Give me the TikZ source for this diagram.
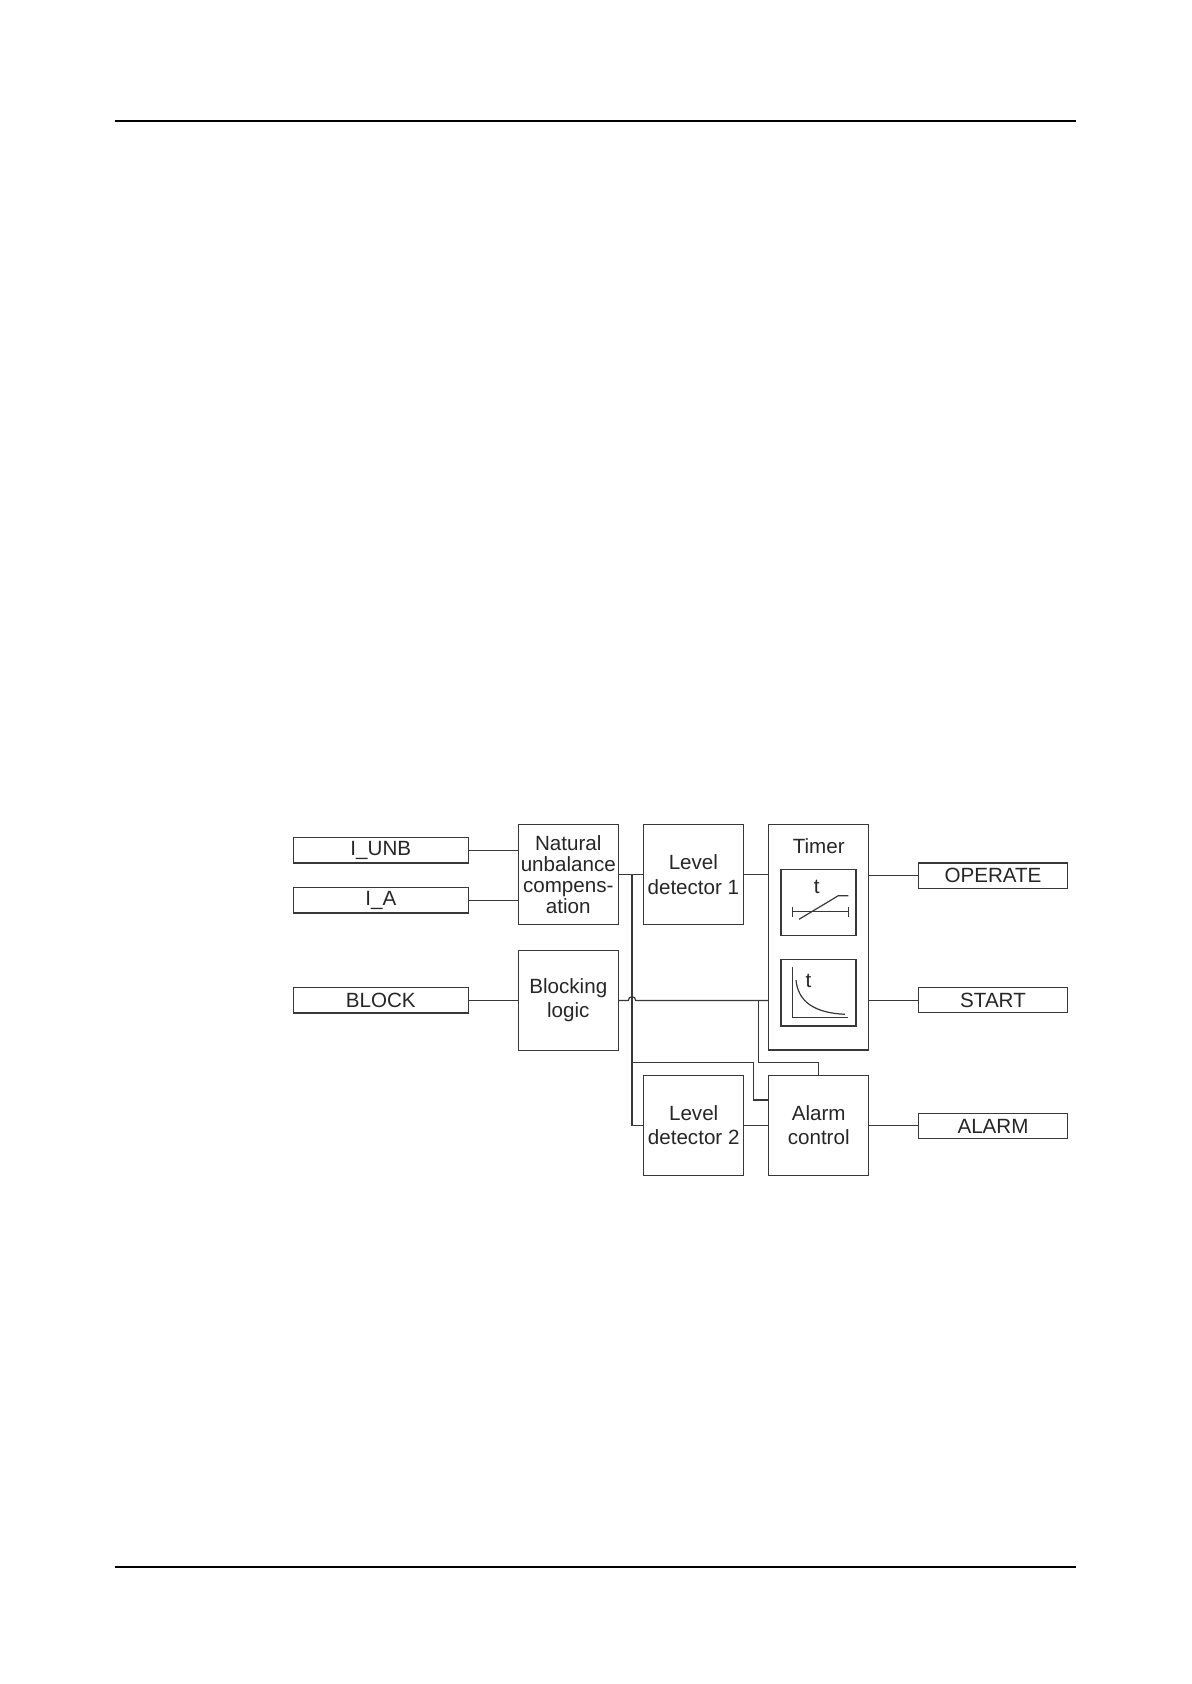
\documentclass[tikz,border=0pt]{standalone}
\usepackage{fontspec}
\setmainfont{Liberation Sans}
\begin{document}
\begin{tikzpicture}[x=0.5pt,y=-0.5pt,
  ln/.style={draw=black!78, line width=0.6pt},
  blockbox/.style={ln, rectangle, inner sep=0pt, minimum width=50pt, minimum height=50pt, align=center, text=black!85,
     font=\fontsize{10.3}{12.2}\selectfont},
  sigbox/.style={ln, rectangle, inner sep=0pt, minimum height=12.6pt, text=black!85,
     font=\fontsize{10.3}{12.2}\selectfont},
  inbox/.style={sigbox, minimum width=87.5pt},
  outbox/.style={sigbox, minimum width=74.7pt},
  rule/.style={draw=black, line width=1pt}]
\useasboundingbox (0,0) rectangle (1191,1684);
% header / footer rules
\coordinate (hl) at (115,121); \coordinate (hr) at (1076,121);
\coordinate (fl) at (115,1567); \coordinate (fr) at (1076,1567);
\draw[rule] (hl) -- (hr);
\draw[rule] (fl) -- (fr);
% input boxes
\node[inbox] (iunb) at (380.8,850.3) {I\_UNB};
\node[inbox] (ia) at (380.8,900.3) {I\_A};
\node[inbox] (blk) at (380.8,1000.3) {BLOCK};
% main blocks
\node[blockbox, font=\fontsize{10.3}{10.5}\selectfont] (nat) at (568.3,874.7) {Natural\\unbalance\\compens-\\ation};
\node[blockbox, minimum height=49.7pt] (bl) at (568.3,1000.4) {Blocking\\logic};
\node[blockbox] (ld1) at (693.4,874.7) {Level\\detector 1};
\node[blockbox] (ld2) at (693.7,1125.4) {Level\\detector 2};
\node[blockbox] (ac) at (818.7,1125.4) {Alarm\\control};
\node[blockbox, minimum height=112.8pt] (tim) at (818.7,937.2) {};
\node[text=black!85, font=\fontsize{10.3}{12.2}\selectfont] (timlab) at (818.7,846) {Timer};
\node[ln, rectangle, inner sep=0pt, minimum width=37.5pt, minimum height=33.2pt] (in1) at (818.5,902.5) {};
\node[ln, rectangle, inner sep=0pt, minimum width=37.5pt, minimum height=33.3pt] (in2) at (818.5,992.7) {};
% output boxes
\node[outbox] (op) at (993,875.5) {OPERATE};
\node[outbox] (st) at (993,1000.2) {START};
\node[outbox] (al) at (993,1126.2) {ALARM};
% inner graphics: definite time
\node[text=black!85, font=\fontsize{10.3}{12}\selectfont] (t1) at (816.7,887) {t};
\coordinate (h1) at (792.7,911.7); \coordinate (h2) at (848.3,911.7);
\draw[ln] (h1) -- (h2);
\draw[ln] ([yshift=2.5pt]h1) -- ([yshift=-2.5pt]h1);
\draw[ln] ([yshift=2.5pt]h2) -- ([yshift=-2.5pt]h2);
\coordinate (d1) at (799,919.3); \coordinate (d2) at (838.3,895.7); \coordinate (d3) at (848.3,895.7);
\draw[ln] (d1) -- (d2) -- (d3);
% inner graphics: inverse time
\node[text=black!85, font=\fontsize{10.3}{12}\selectfont] (t2) at (808.5,981) {t};
\coordinate (a1) at (792.3,966.7); \coordinate (a0) at (792.3,1017.7); \coordinate (a2) at (847.7,1017.7);
\draw[ln] (a1) -- (a0) -- (a2);
\coordinate (c1) at (796,980); \coordinate (c2) at (845,1014.3);
\draw[ln] (c1) .. controls (798,1002) and (815,1013) .. (c2);
% input connectors
\draw[ln] (iunb.east) -- (iunb.east -| nat.west);
\draw[ln] (ia.east) -- (ia.east -| nat.west);
\draw[ln] (blk.east) -- (blk.east -| bl.west);
% main path
\draw[ln] (nat.east) -- (ld1.west);
\draw[ln] (ld1.east) -- (ld1.east -| tim.west);
\draw[ln] (op.west -| tim.east) -- (op.west);
\draw[ln] (st.west -| tim.east) -- (st.west);
\draw[ln] (ac.east) -- (ac.east -| al.west);
% bus
\coordinate (bus0) at (632,874.7);
\coordinate (bus1) at (632,1062.7);
\coordinate (bus2) at (632,1125.4);
\draw[ln] (bus0) -- (bus2) -- (bus2 -| ld2.west);
\draw[ln] (ld2.east) -- (ac.west);
\coordinate (k1) at (753.3,1062.7);
\coordinate (k2) at (753.3,1100);
\draw[ln] (bus1) -- (k1) -- (k2) -- (k2 -| ac.west);
% blocking signal with hop over bus
\coordinate (hopa) at (628.3,1000.4);
\coordinate (hopb) at (635.7,1000.4);
\draw[ln] (bl.east) -- (hopa) .. controls (628.3,995.5) and (635.7,995.5) .. (hopb) -- (hopb -| tim.west);
\coordinate (b1) at (758.3,1000.4);
\coordinate (b2) at (758.3,1062.7);
\coordinate (b3) at (818.7,1062.7);
\draw[ln] (b1) -- (b2) -- (b3) -- (ac.north);
\end{tikzpicture}
\end{document}
